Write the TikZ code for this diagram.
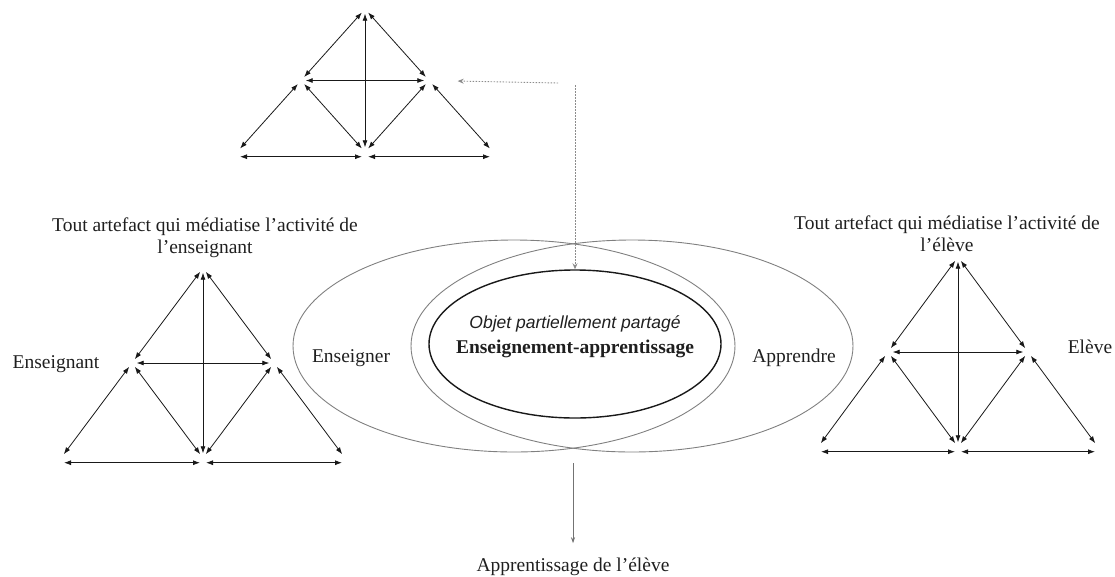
\documentclass[tikz,border=0pt]{standalone}
\usepackage{fontspec}
\setmainfont{Liberation Serif}
\newfontfamily\arialfont{Liberation Sans}
\usetikzlibrary{arrows.meta,shapes.geometric}

\newcommand\tritree[5]{% prefix, apex x, apex y, half width, height
  \node[vtx] (#1a)  at (#2,#3) {};
  \node[vtx] (#1l)  at ({#2-#4/2},{#3+#5/2}) {};
  \node[vtx] (#1r)  at ({#2+#4/2},{#3+#5/2}) {};
  \node[vtx] (#1bl) at ({#2-#4},{#3+#5}) {};
  \node[vtx] (#1bm) at (#2,{#3+#5}) {};
  \node[vtx] (#1br) at ({#2+#4},{#3+#5}) {};
  \draw[dbl] (#1a) -- (#1l);
  \draw[dbl] (#1a) -- (#1r);
  \draw[dbl] (#1a) -- (#1bm);
  \draw[dbl] (#1l) -- (#1r);
  \draw[dbl] (#1l) -- (#1bl);
  \draw[dbl] (#1l) -- (#1bm);
  \draw[dbl] (#1r) -- (#1bm);
  \draw[dbl] (#1r) -- (#1br);
  \draw[hz] (#1bl.south) -- (#1bm.south);
  \draw[hz] (#1bm.south) -- (#1br.south);
}

\begin{document}
\begin{tikzpicture}[x=1pt,y=-1pt,
  vtx/.style={circle,inner sep=0pt,minimum size=9pt},
  dbl/.style={{Latex[length=7pt,width=5pt]}-{Latex[length=7pt,width=5pt]}, line width=0.8pt, draw=black!90},
  hz/.style={dbl, shorten <=3pt, shorten >=3pt},
  lbl/.style={inner sep=0pt, font=\fontsize{19.5}{22}\selectfont, text=black!88},
  outerell/.style={ellipse, draw=black!50, line width=0.9pt, minimum width=442pt, minimum height=212pt, inner sep=0pt},
  innerell/.style={ellipse, draw=black!90, line width=1.4pt, minimum width=292pt, minimum height=148pt, inner sep=0pt},
  dots/.style={draw=black!45, line width=0.9pt, dash pattern=on 1.5pt off 1.5pt, -{Stealth[length=6pt,width=5pt]}},
  grayarr/.style={draw=black!55, line width=0.8pt, -{Stealth[length=6pt,width=4pt]}}
]
\useasboundingbox (0,0) rectangle (1115,576);

% three triangles
\tritree{t}{365}{9}{128}{143}
\tritree{g}{203}{268}{142}{190}
\tritree{d}{958}{257}{140}{190}

% ellipses
\node[outerell] (enseigner) at (514,346) {};
\node[outerell] (apprendre) at (632,346) {};
\node[innerell] (objet) at (575,344) {};

% texts
\node[lbl, align=center] (hg) at (205,238) {Tout artefact qui médiatise l’activité de\\l’enseignant};
\node[lbl, align=center] (hd) at (947,234) {Tout artefact qui médiatise l’activité de\\l’élève};
\node[lbl, anchor=base] (ens) at (56,368) {Enseignant};
\node[lbl, anchor=base] (elv) at (1090,353) {Elève};
\node[lbl, anchor=base] (tens) at (351,362) {Enseigner};
\node[lbl, anchor=base] (tapp) at (794,362) {Apprendre};
\node[inner sep=0pt, anchor=base, text=black!88, font=\arialfont\itshape\fontsize{17.5}{20}\selectfont] (obj1) at (575,328) {Objet partiellement partagé};
\node[lbl, anchor=base, font=\bfseries\fontsize{19.5}{22}\selectfont] (obj2) at (575,353) {Enseignement-apprentissage};
\node[lbl, anchor=base] (appel) at (573,571) {Apprentissage de l’élève};

% dotted arrows
\coordinate (dh) at (558,83);
\coordinate (dv) at (575,85);
\draw[dots, shorten >=24pt] (dh) -- (tr);
\draw[dots] (dv) -- (objet.north);

% bottom arrow
\coordinate (bs) at (573,463);
\draw[grayarr, shorten >=14pt] (bs) -- (appel.north);
\end{tikzpicture}
\end{document}
